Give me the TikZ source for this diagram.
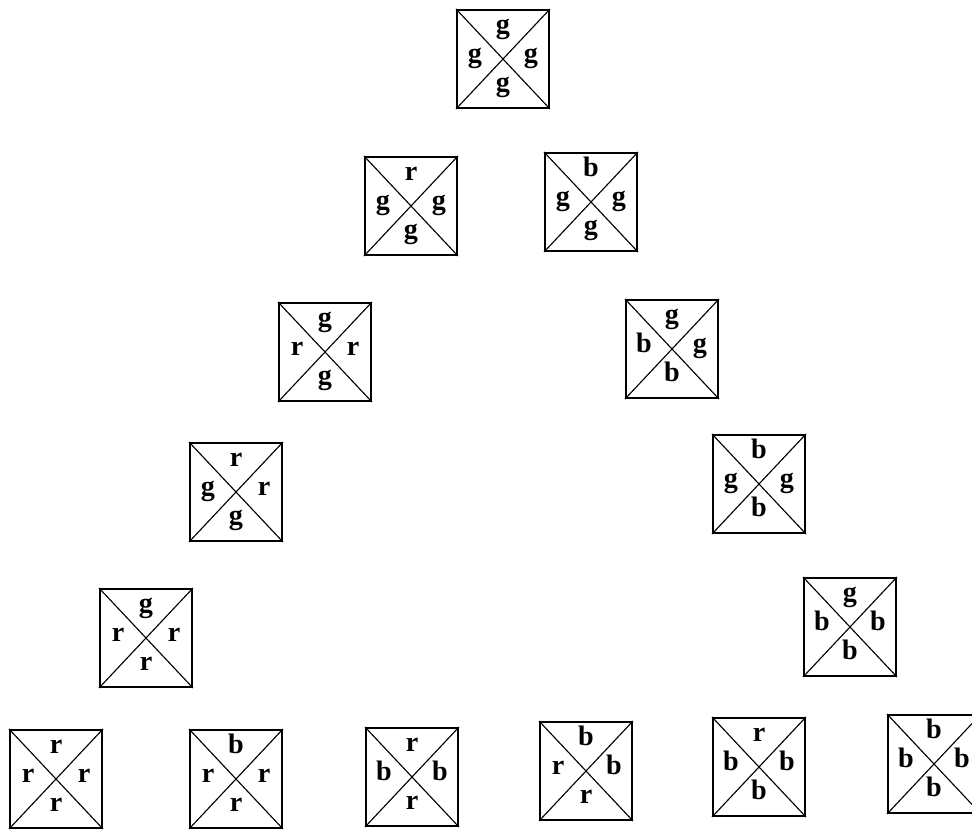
\documentclass[tikz,border=0pt]{standalone}
\usepackage{fontspec}
\setmainfont{Liberation Serif}
\usepackage{tikz}
\usetikzlibrary{positioning}

\tikzset{
	tile/.style={draw, line width=1.3pt, minimum width=2.3cm, minimum height=2.45cm, inner sep=0pt},
	diag/.style={line width=0.8pt},
	letter/.style={inner sep=0pt, text height=1.45ex, text depth=0.45ex,
		font=\fontsize{20}{24}\selectfont\bfseries}
}

% one square: name, position, top, left, right, bottom
\newcommand{\quadbox}[6]{%
	\node[tile] (#1) at (#2) {};
	\draw[diag] (#1.north west) -- (#1.south east);
	\draw[diag] (#1.south west) -- (#1.north east);
	\node[letter] (#1t) at ([yshift=0.72cm]#1.center) {#3};
	\node[letter] (#1l) at ([xshift=-0.7cm]#1.center) {#4};
	\node[letter] (#1r) at ([xshift=0.7cm]#1.center) {#5};
	\node[letter] (#1b) at ([yshift=-0.72cm]#1.center) {#6};
}

\begin{document}
\begin{tikzpicture}[x=0.025cm, y=-0.025cm]
	\useasboundingbox (0,0) rectangle (972,829);
	% top
	\quadbox{s0}{503,59}{g}{g}{g}{g}
	% left branch
	\quadbox{l1}{411,206}{r}{g}{g}{g}
	\quadbox{l2}{325,352}{g}{r}{r}{g}
	\quadbox{l3}{236,492}{r}{g}{r}{g}
	\quadbox{l4}{146,638}{g}{r}{r}{r}
	% right branch
	\quadbox{r1}{591,202}{b}{g}{g}{g}
	\quadbox{r2}{672,349}{g}{b}{g}{b}
	\quadbox{r3}{759,484}{b}{g}{g}{b}
	\quadbox{r4}{850,627}{g}{b}{b}{b}
	% bottom row
	\quadbox{e1}{56,779}{r}{r}{r}{r}
	\quadbox{e2}{236,779}{b}{r}{r}{r}
	\quadbox{e3}{412,777}{r}{b}{b}{r}
	\quadbox{e4}{586,771}{b}{r}{b}{r}
	\quadbox{e5}{759,767}{r}{b}{b}{b}
	\quadbox{e6}{934,764}{b}{b}{b}{b}
\end{tikzpicture}
\end{document}
